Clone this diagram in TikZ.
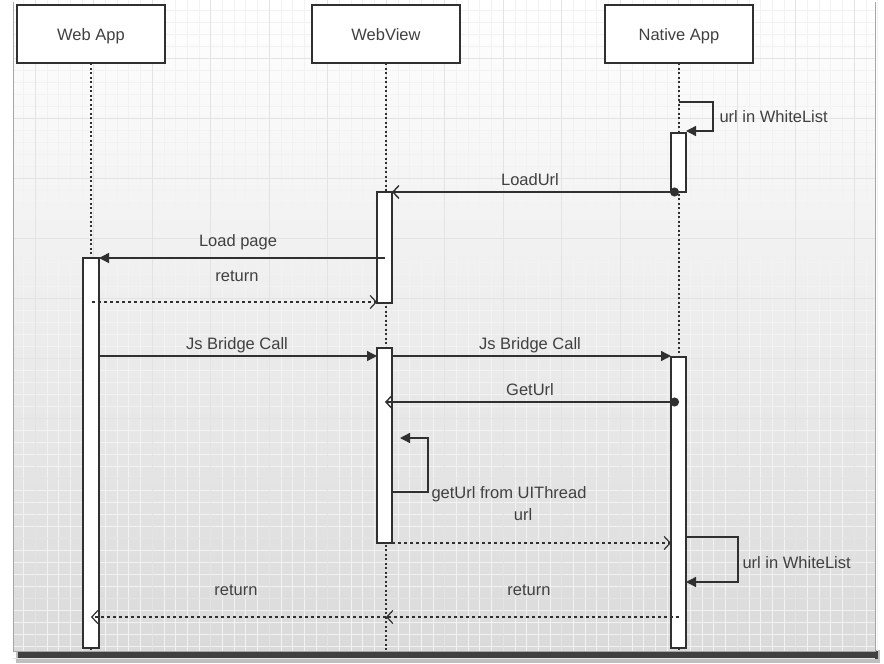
\documentclass[tikz,border=0pt]{standalone}
\usepackage{fontspec}
\setmainfont{Liberation Sans}
\usetikzlibrary{arrows.meta}
\definecolor{linegray}{HTML}{303030}
\definecolor{textgray}{HTML}{404040}
\definecolor{paneltop}{HTML}{FFFFFF}
\definecolor{panelbot}{HTML}{DADADA}

\begin{document}
\begin{tikzpicture}[x=1pt, y=-1pt,
	every node/.style={font=\fontsize{16.5}{19}\selectfont, text=textgray},
	actor/.style={draw=linegray, line width=1.6pt, fill=white, minimum width=148pt, minimum height=58pt,
		text height=12pt, text depth=0pt},
	lifeline/.style={linegray, line width=1.4pt, dash pattern=on 2pt off 2.5pt},
	bar/.style={draw=linegray, line width=1.4pt, fill=white},
	call/.style={linegray, line width=1.4pt, -{Triangle[length=10pt, width=10pt]}},
	reply/.style={linegray, line width=1.2pt, dash pattern=on 3pt off 3pt, -{Straight Barb[length=6pt, width=13pt]}},
	post/.style={linegray, line width=1.4pt, {Circle[length=9pt]}-{Straight Barb[length=6pt, width=13pt]}},
	self/.style={linegray, line width=1.4pt, -{Triangle[length=10pt, width=10pt]}}]

	\useasboundingbox (0,0) rectangle (884,664);
	\fill[white] (0,0) rectangle (884,664);

	% ============ BACKGROUND: PANEL + GRID ============

	\fill[black!25] (16,650) rectangle (880,663);
	\fill[black!75] (18,651) rectangle (878,659);
	\shade[top color=paneltop, bottom color=panelbot] (13,0) rectangle (875,651);
	\foreach \x in {0,...,73} {
		\draw[gray!10] (23.3+11.7*\x, 0) -- (23.3+11.7*\x, 651);
	}
	\foreach \y in {0,...,55} {
		\draw[gray!10] (13, 10+12*\y) -- (875, 10+12*\y);
	}
	\foreach \x in {0,...,14} {
		\draw[gray!22] (35+58.5*\x, 0) -- (35+58.5*\x, 651);
	}
	\foreach \y in {0,...,10} {
		\draw[gray!22] (13, 58+60*\y) -- (875, 58+60*\y);
	}
	\draw[gray!70, thick] (13,2) -- (13,651) -- (875,651) -- (875,2);

	% ============ ACTORS + LIFELINES ============

	\foreach \name/\x/\txt in {webapp/91/Web App, webview/386/WebView, native/679/Native App} {
		\coordinate (\name-end) at (\x, 652);
		\draw[lifeline] (\x, 63) -- (\name-end);
		\node[actor] (\name) at (\x, 34) {\txt};
	}

	% Activation bars
	\draw[bar] (83,258) rectangle (99,648);
	\draw[bar] (377,192) rectangle (392,303);
	\draw[bar] (377,348) rectangle (392,543);
	\draw[bar] (671,133) rectangle (686,192);
	\draw[bar] (671,357) rectangle (686,648);

	% ============ MESSAGES ============

	% url in WhiteList (first check)
	\coordinate (chk1-a) at (679,102);
	\coordinate (chk1-b) at (686,131);
	\draw[self] (chk1-a) -- (713,102) -- (713,131) -- (chk1-b);
	\node[anchor=west] (chk1) at (716,117) {url in WhiteList};

	% LoadUrl
	\coordinate (load-a) at (679,192);
	\coordinate (load-b) at (392,192);
	\draw[post] (load-a) -- (load-b);
	\node (loadurl) at (530,180) {LoadUrl};

	% Load page + return
	\coordinate (page-a) at (385,258);
	\coordinate (page-b) at (99,258);
	\draw[call] (page-a) -- (page-b);
	\node (loadpage) at (238,242) {Load page};

	\coordinate (ret1-a) at (92,302);
	\coordinate (ret1-b) at (377,302);
	\draw[reply] (ret1-a) -- (ret1-b);
	\node (ret1) at (237,276) {return};

	% Js Bridge Call
	\coordinate (js1-a) at (99,356);
	\coordinate (js1-b) at (377,356);
	\draw[call] (js1-a) -- (js1-b);
	\node (js1) at (237,345) {Js Bridge Call};

	\coordinate (js2-a) at (392,356);
	\coordinate (js2-b) at (671,356);
	\draw[call] (js2-a) -- (js2-b);
	\node (js2) at (530,345) {Js Bridge Call};

	% GetUrl
	\coordinate (get-a) at (679,402);
	\coordinate (get-b) at (385,402);
	\draw[post] (get-a) -- (get-b);
	\node (geturl) at (530,390) {GetUrl};

	% getUrl from UIThread
	\coordinate (ui-a) at (392,492);
	\coordinate (ui-b) at (400,438);
	\draw[self] (ui-a) -- (428,492) -- (428,438) -- (ui-b);
	\node[anchor=west] (uithread) at (428,494) {getUrl from UIThread};

	% url
	\coordinate (url-a) at (392,543);
	\coordinate (url-b) at (671,543);
	\draw[reply] (url-a) -- (url-b);
	\node (url) at (523,515) {url};

	% url in WhiteList (second check)
	\coordinate (chk2-a) at (686,537);
	\coordinate (chk2-b) at (686,582);
	\draw[self] (chk2-a) -- (738,537) -- (738,582) -- (chk2-b);
	\node[anchor=west] (chk2) at (739,563) {url in WhiteList};

	% return (twice)
	\coordinate (ret2-a) at (679,617);
	\coordinate (ret2-b) at (386,617);
	\coordinate (ret3-b) at (91,617);
	\draw[reply] (ret2-a) -- (ret2-b);
	\draw[reply] (ret2-b) -- (ret3-b);
	\node (ret2) at (529,590) {return};
	\node (ret3) at (236,590) {return};

\end{tikzpicture}
\end{document}
